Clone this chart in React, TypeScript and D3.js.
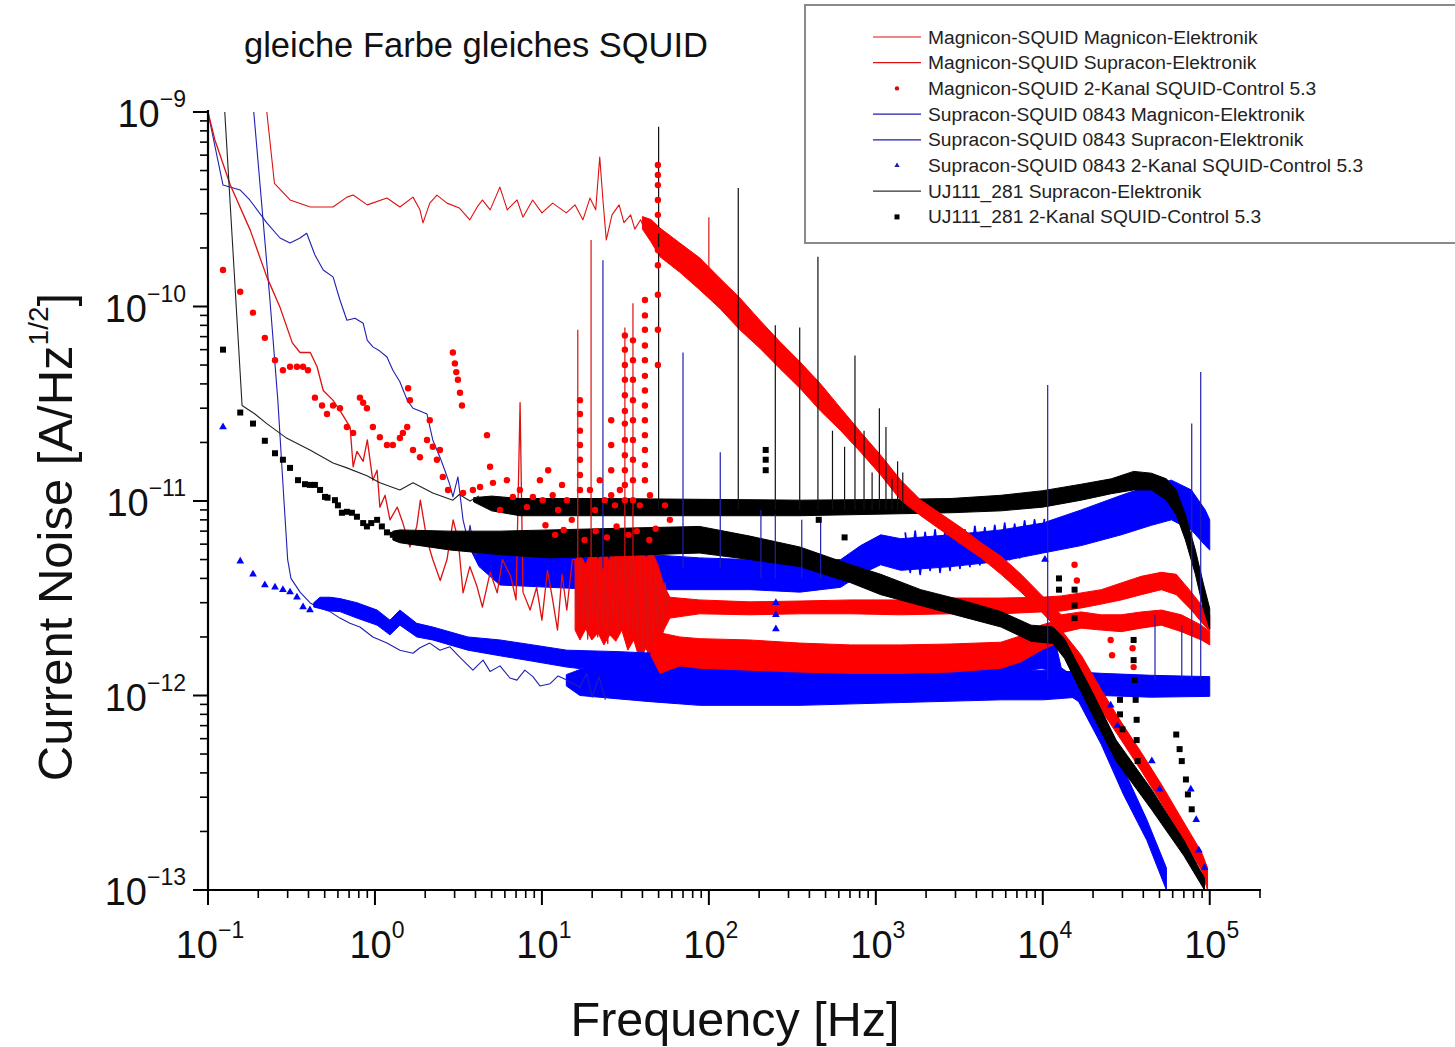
import React from "react";
import * as d3 from "d3";

// ---------- text ----------
const titleText = "gleiche Farbe gleiches SQUID";
const xTitle = "Frequency [Hz]";
const yTitleMain = "Current Noise [A/Hz";
const yTitleSup = "1/2";
const yTitleEnd = "]";
const xTickExponents = [-1, 0, 1, 2, 3, 4, 5];
const yTickExponents = [-13, -12, -11, -10, -9];
const legendLabels = [
  "Magnicon-SQUID Magnicon-Elektronik",
  "Magnicon-SQUID Supracon-Elektronik",
  "Magnicon-SQUID 2-Kanal SQUID-Control 5.3",
  "Supracon-SQUID 0843 Magnicon-Elektronik",
  "Supracon-SQUID 0843 Supracon-Elektronik",
  "Supracon-SQUID 0843 2-Kanal SQUID-Control 5.3",
  "UJ111_281 Supracon-Elektronik",
  "UJ111_281 2-Kanal SQUID-Control 5.3",
];

// ---------- data: [Hz, pA/sqrtHz] ; bands: [Hz, low, high] ; spikes: [Hz, base, top] ----------
// Magnicon-SQUID Magnicon-Elektronik (red line)
const magMagTrace = [
  [0.22, 1300], [0.225, 1000], [0.25, 430], [0.31, 353], [0.41, 325], [0.56, 325], [0.68, 365], [0.74, 374],
  [0.9, 333], [1.18, 361], [1.41, 325], [1.69, 365], [1.86, 314], [1.94, 269], [2.13, 340], [2.35, 374],
  [2.7, 340], [3.2, 321], [3.7, 279], [4.1, 325], [4.4, 353], [4.9, 314], [5.6, 411], [6.2, 314], [7.1, 353],
  [7.7, 288], [8.8, 353], [10, 303], [11.6, 340], [14, 303], [15.8, 333], [17.6, 279], [19.4, 361], [21, 314],
  [22.2, 586], [23.2, 353], [24.3, 220], [26.3, 296], [29, 333], [31, 270], [34, 296], [36, 250], [39, 279],
  [42, 240], [45, 247],
];
const magMagBand = [
  [40, 250, 290], [45, 215, 280], [51, 180, 253], [67, 150, 212], [88, 122, 178], [116, 98, 140],
  [153, 76, 111], [202, 61, 85], [266, 48, 66], [351, 38, 52], [467, 29, 40], [616, 23, 30],
  [812, 17.8, 22.6], [1070, 13.6, 17.2], [1410, 10.1, 12.8], [1860, 8.4, 10.1], [2450, 7.1, 8.6],
  [3240, 6.0, 7.3], [4270, 5.1, 6.1], [5620, 4.2, 5.2], [7410, 3.4, 4.2], [9770, 2.7, 3.3],
  [12900, 2.1, 2.6], [17000, 2.22, 2.69], [22400, 2.17, 2.6], [29500, 2.13, 2.6], [38900, 2.22, 2.69],
  [51300, 2.3, 2.75], [67600, 2.13, 2.6], [89100, 1.93, 2.3], [100000, 1.82, 2.12],
];
const magMagSpikes = [[100, 150, 288]];

// Magnicon-SQUID Supracon-Elektronik (red line)
const magSupTrace = [
  [0.1, 1000], [0.11, 718], [0.136, 421], [0.179, 247], [0.225, 142], [0.27, 99], [0.32, 65], [0.356, 58],
  [0.41, 58], [0.45, 49], [0.49, 37], [0.56, 33], [0.62, 29], [0.71, 24], [0.74, 15], [0.78, 18], [0.85, 16],
  [0.9, 20.6], [0.97, 12.8], [1.03, 14.4], [1.07, 9.3], [1.15, 10.7], [1.23, 8.0], [1.36, 9.3], [1.47, 7.7],
  [1.62, 5.8], [1.78, 7.4], [1.87, 10.1], [2.05, 6.3], [2.22, 5.0], [2.46, 3.9], [2.7, 5.0], [2.94, 8.0],
  [3.15, 6.3], [3.37, 3.37], [3.7, 4.6], [4.1, 3.6], [4.4, 2.85], [4.9, 4.3], [5.4, 3.37], [5.8, 5.0],
  [6.5, 4.1], [7.0, 3.1], [7.4, 32], [7.7, 3.4], [8.5, 2.75], [9.3, 3.6], [10, 2.44], [10.8, 4.4],
  [11.6, 3.1], [12.4, 2.17], [13.2, 4.2], [14.1, 2.75], [15.2, 5.0],
  [15.8, 5.0], [16.4, 2.1], [17.0, 5.6], [17.6, 2.3], [18.2, 4.6], [18.8, 1.95], [19.5, 6.0], [20.2, 2.5],
  [20.9, 5.2], [21.6, 2.0], [22.4, 5.8], [23.2, 2.2], [24.0, 4.8], [24.8, 1.85], [25.7, 5.4], [26.6, 2.4],
  [27.5, 6.1], [28.5, 2.0], [29.5, 5.0], [30.5, 2.3], [31.6, 6.3], [32.7, 1.9], [33.8, 5.5], [35.0, 2.1],
  [36.2, 4.9], [37.5, 1.7], [38.8, 5.8], [40.2, 1.55], [41.6, 5.2], [43.0, 1.6], [44.5, 5.6], [46.1, 1.7],
  [47.7, 4.8], [49.4, 1.9], [51.1, 4.2], [52.9, 2.2], [54.7, 3.8], [56.6, 2.6],
];
const magSupBand = [
  [15.8, 2.17, 5.0], [16.9, 1.93, 5.3], [18.3, 2.2, 4.7], [19.9, 1.93, 5.7], [21.7, 2.1, 5.0],
  [23.5, 1.82, 5.5], [25.5, 2.05, 4.9], [27.7, 1.9, 5.9], [30.1, 2.17, 5.1], [32.7, 1.71, 5.9],
  [35.5, 1.93, 5.3], [38.6, 1.52, 5.6], [41.9, 1.75, 5.1], [45.5, 1.55, 5.5], [49.5, 1.71, 4.7],
  [53.7, 2.17, 3.7], [58.4, 2.5, 3.2], [88, 2.63, 3.1], [176, 2.6, 3.03], [351, 2.63, 3.06],
  [707, 2.63, 3.1], [1410, 2.6, 3.1], [2820, 2.63, 3.17], [5620, 2.63, 3.17], [9770, 2.69, 3.2],
  [12900, 2.72, 3.25], [17000, 2.82, 3.37], [22400, 2.95, 3.5], [29500, 3.1, 3.79], [38900, 3.3, 4.1],
  [51300, 3.5, 4.3], [63000, 3.3, 4.2], [77600, 2.75, 3.4], [89100, 2.39, 2.92], [100000, 2.13, 2.6],
];
const magSupSpikes = [[16.4, 4, 76], [19.7, 4, 220], [31.4, 4, 78], [35.1, 4, 104]];

// Magnicon-SQUID 2-Kanal SQUID-Control 5.3 (red dots)
const magCtrlPoints = [
  [0.123, 154], [0.156, 119], [0.186, 93], [0.219, 69], [0.252, 53], [0.281, 47], [0.31, 49], [0.341, 49],
  [0.371, 49], [0.397, 47], [0.437, 34], [0.482, 31], [0.516, 28], [0.561, 31], [0.617, 30], [0.679, 24],
  [0.74, 22.4], [0.813, 34], [0.85, 32], [0.895, 30], [0.972, 24], [1.07, 21.3], [1.18, 19.4], [1.28, 19.4],
  [1.41, 21.1], [1.47, 22.4], [1.56, 24], [1.58, 38], [1.62, 33], [1.69, 18.3], [1.86, 16.8], [2.05, 20.6],
  [2.13, 26], [2.22, 19.0], [2.35, 16.3], [2.45, 18.3], [2.55, 13.3], [2.74, 11.4], [2.93, 58], [3.01, 51],
  [3.07, 46], [3.14, 42], [3.23, 36], [3.32, 31], [3.37, 11.0], [3.86, 11.4], [4.26, 11.8], [4.69, 21.8],
  [4.89, 15.0], [5.09, 12.4], [5.61, 9.0], [6.17, 12.8], [6.7, 10.5], [7.38, 11.4], [8.13, 9.3], [8.83, 10.5],
  [9.73, 12.8], [10.1, 10.1], [10.5, 7.5], [10.9, 14.4], [11.6, 10.7], [12, 6.7], [12.5, 9.0], [13.2, 12.1],
  [13.5, 7.1], [14.1, 10.1], [15.1, 8.0],
  [16.9, 33], [16.9, 28], [16.9, 23], [16.9, 19.4], [16.9, 16.3], [16.9, 13.6], [16.9, 11.4],
  [18, 6.3], [19.4, 11.4], [20.8, 9.0], [21, 7.0], [22.2, 12.8], [23.8, 10.1], [24.5, 6.5],
  [26, 26], [26, 19.4], [26, 14.4], [26, 10.7], [27.4, 9.5], [28, 7.4], [29.3, 11.4],
  [31.4, 71], [31.4, 60], [31.4, 50], [31.4, 42], [31.4, 35], [31.4, 29], [31.4, 25], [31.4, 20.6],
  [31.4, 17.2], [31.4, 14.4], [31.4, 12.1], [31.4, 10.1], [33, 6.7],
  [35.1, 67], [35.1, 53], [35.1, 42], [35.1, 33], [35.1, 26], [35.1, 20.6], [35.1, 16.3], [35.1, 12.8],
  [35.1, 10.1], [37, 7.0], [38.6, 9.5],
  [41.4, 108], [41.4, 90], [41.4, 76], [41.4, 63], [41.4, 53], [41.4, 44], [41.4, 37], [41.4, 31],
  [41.4, 26], [41.4, 21.8], [41.4, 18.3], [41.4, 15.3], [41.4, 12.8], [44, 6.3], [44.4, 10.7], [48, 7.2],
  [49.5, 534], [49.5, 475], [49.5, 421], [49.5, 353], [49.5, 296], [49.5, 247], [49.5, 195], [49.5, 163],
  [49.5, 115], [49.5, 76], [49.5, 50], [54.6, 9.5], [58.4, 8.0],
  [15500, 4.7], [16000, 3.9], [25500, 1.93], [26000, 1.61], [34500, 1.75], [35000, 1.4],
];
const magCtrlBand = [
  [45, 1.6, 1.85], [50.9, 1.3, 2.1], [67, 1.42, 2.0], [88, 1.38, 1.96], [176, 1.35, 1.93],
  [351, 1.32, 1.86], [707, 1.3, 1.82], [1410, 1.3, 1.82], [2820, 1.32, 1.84], [5620, 1.38, 1.88],
  [7410, 1.49, 2.03], [9770, 1.71, 2.3], [11600, 1.82, 2.4], [12900, 1.71, 2.17], [17000, 1.27, 1.61],
  [22400, 0.84, 1.07], [29500, 0.59, 0.73], [38900, 0.41, 0.51], [51300, 0.28, 0.35], [67600, 0.19, 0.234],
  [89100, 0.127, 0.157], [97000, 0.1, 0.13],
];

// Supracon-SQUID 0843 Magnicon-Elektronik (blue line)
const supMagTrace = [
  [0.188, 1000], [0.235, 108], [0.262, 33], [0.285, 10.1], [0.3, 5.0], [0.314, 4.0], [0.356, 3.4],
  [0.408, 3.0], [0.45, 2.85], [0.538, 2.7], [0.617, 2.5], [0.708, 2.35], [0.813, 2.25], [0.972, 2.0],
  [1.18, 1.86], [1.41, 1.71], [1.69, 1.65], [1.86, 1.76], [2.13, 1.86], [2.45, 1.71], [2.81, 1.78],
  [3.23, 1.57], [3.86, 1.35], [4.44, 1.52], [4.89, 1.33], [5.61, 1.42], [6.43, 1.23], [7.08, 1.2],
  [7.9, 1.35], [8.83, 1.25], [9.73, 1.12], [11.2, 1.15], [12.5, 1.26], [14.1, 1.2], [16.9, 1.1],
  [18.5, 1.3], [20, 0.98], [22, 1.25], [24, 0.95],
];
const supMagBand = [
  [14, 1.12, 1.28], [16.9, 1.0, 1.36], [44.4, 0.93, 1.39], [88, 0.89, 1.35], [351, 0.89, 1.32],
  [1410, 0.92, 1.35], [5620, 0.95, 1.35], [10000, 0.95, 1.35], [22400, 1.0, 1.3], [44700, 0.98, 1.27],
  [100000, 0.99, 1.25],
];
const supMagSpikes = [[10700, 1.2, 39.5], [47000, 1.2, 2.6], [68000, 1.2, 2.3], [78000, 1.2, 25], [88300, 1.2, 46]];

// Supracon-SQUID 0843 Supracon-Elektronik (blue line)
const supSupTrace = [
  [0.1, 1000], [0.103, 878], [0.123, 421], [0.156, 397], [0.178, 353], [0.225, 269], [0.27, 225],
  [0.31, 212], [0.356, 225], [0.39, 238], [0.437, 184], [0.49, 154], [0.561, 142], [0.617, 108],
  [0.679, 85], [0.759, 87], [0.85, 82], [0.9, 67], [0.972, 62], [1.07, 59], [1.18, 55], [1.28, 47],
  [1.41, 41], [1.56, 33], [1.69, 30], [1.86, 29], [2.05, 28], [2.22, 20.6], [2.45, 16.8], [2.62, 14.4],
  [2.81, 12.1], [2.93, 10.5], [3.14, 13.3], [3.37, 8.0], [3.6, 6.3], [3.71, 7.5], [4.0, 5.2], [4.3, 6.6],
];
const supSupOsc = [
  [1500, 6.9], [1607, 4.3], [1721, 7.0], [1843, 4.2], [1974, 6.9], [2114, 4.4], [2264, 7.1], [2425, 4.3],
  [2597, 7.0], [2781, 4.4], [2979, 7.2], [3190, 4.5], [3417, 7.1], [3659, 4.6], [3919, 7.4], [4197, 4.7],
  [4495, 7.3], [4814, 4.8], [5156, 7.5], [5522, 4.9], [5914, 7.7], [6334, 5.0], [6784, 7.6], [7265, 5.1],
  [7781, 7.9], [8333, 5.3], [8925, 8.0], [9559, 5.4], [10237, 8.1],
];
const supSupBand = [
  [3.6, 6.0, 6.6], [4.2, 4.6, 6.6], [5.6, 3.7, 5.6], [11.2, 3.6, 5.3], [22.2, 3.5, 5.3], [44.4, 3.5, 5.3],
  [88, 3.5, 5.1], [176, 3.5, 5.0], [351, 3.4, 4.9], [616, 3.6, 5.0], [812, 4.2, 5.9], [1070, 4.7, 6.7],
  [1410, 4.4, 6.4], [2820, 4.6, 6.7], [5620, 4.9, 7.1], [10000, 5.4, 7.7], [17000, 5.9, 9.0],
  [29500, 6.7, 10.7], [44700, 7.5, 12.1], [58900, 8.0, 12.8], [77600, 7.1, 11.4], [94000, 5.9, 9.0],
  [100000, 5.6, 8.0],
];
const supSupSpikes = [
  [23.2, 4.5, 173], [70, 4.5, 58], [117, 4.5, 17.8], [205, 4, 9], [250, 4, 8.5], [360, 4, 8], [467, 4, 8],
];

// Supracon-SQUID 0843 2-Kanal SQUID-Control 5.3 (blue triangles)
const supCtrlPoints = [
  [0.123, 24], [0.156, 4.9], [0.186, 4.2], [0.219, 3.7], [0.252, 3.6], [0.281, 3.5], [0.31, 3.4],
  [0.341, 3.2], [0.371, 2.85], [0.408, 2.75], [252, 3.0], [252, 2.6], [252, 2.2],
  [10300, 5.0], [25500, 0.89], [28000, 0.7], [45000, 0.46], [50000, 0.33], [77000, 0.33], [83000, 0.23],
  [86000, 0.16], [93000, 0.13],
];
const supCtrlBand = [
  [0.43, 2.85, 3.0], [0.469, 2.8, 3.2], [0.538, 2.72, 3.2], [0.617, 2.7, 3.15], [0.78, 2.5, 3.0],
  [1.03, 2.3, 2.75], [1.23, 2.05, 2.44], [1.41, 2.3, 2.75], [1.78, 2.0, 2.35], [2.22, 1.93, 2.25],
  [3.6, 1.71, 2.0], [5.61, 1.6, 1.93], [8.83, 1.5, 1.82], [14.1, 1.4, 1.71], [29.3, 1.3, 1.68],
  [88, 1.2, 1.61], [351, 1.18, 1.61], [1410, 1.18, 1.61], [4270, 1.23, 1.68], [7410, 1.32, 1.82],
  [9770, 1.38, 1.93], [12000, 1.32, 1.82], [12900, 1.07, 1.39], [16400, 0.93, 1.2], [22400, 0.56, 0.75],
  [30400, 0.31, 0.42], [42000, 0.18, 0.23], [55000, 0.1, 0.13],
];

// UJ111_281 Supracon-Elektronik (black line)
const ujSupTrace = [
  [0.126, 1000], [0.16, 31], [0.191, 28], [0.225, 25], [0.297, 21], [0.408, 18.3], [0.561, 15.7],
  [0.679, 14.8], [0.895, 13.5], [1.07, 12.4], [1.41, 11.4], [1.69, 12.4], [2.22, 11.0], [2.93, 10.1],
  [3.2, 10.8], [3.71, 10.0], [4.2, 10.6],
];
const ujSupBand = [
  [3.9, 9.9, 10.4], [5, 8.9, 10.6], [7.38, 8.4, 10.3], [22.2, 8.4, 10.3], [88, 8.4, 10.2],
  [351, 8.4, 10.1], [1410, 8.6, 10.2], [2820, 8.7, 10.3], [5620, 8.9, 10.7], [10000, 9.3, 11.3],
  [17000, 10.1, 12.2], [25700, 10.9, 13.0], [35000, 11.4, 14.2], [44700, 11.4, 13.9], [55000, 10.1, 13.0],
  [63000, 8.5, 11.4], [71500, 6.3, 8.5], [82000, 4.2, 5.6], [92000, 2.75, 3.7], [100000, 2.2, 2.8],
];
const ujSupSpikes = [
  [50, 9, 840], [150, 9, 407], [250, 9, 80], [350, 9, 78], [450, 9, 180], [550, 9, 23], [650, 9, 19],
  [750, 9, 56], [850, 9, 23], [950, 9, 14], [1050, 9, 30], [1150, 9, 24], [1250, 9, 13], [1350, 9, 16],
  [1450, 9, 14],
];

// UJ111_281 2-Kanal SQUID-Control 5.3 (black squares)
const ujCtrlPoints = [
  [0.123, 60], [0.156, 28.5], [0.186, 25], [0.219, 20.4], [0.252, 17.6], [0.281, 16.3], [0.31, 14.8],
  [0.346, 12.8], [0.381, 12.2], [0.408, 12.1], [0.437, 12.1], [0.469, 11.4], [0.502, 10.5], [0.52, 10.4],
  [0.576, 10.1], [0.6, 9.5], [0.634, 8.7], [0.679, 8.8], [0.728, 8.7], [0.78, 8.3], [0.85, 7.7],
  [0.895, 7.4], [0.95, 7.7], [1.03, 8.0], [1.1, 7.4], [1.18, 6.9], [1.28, 6.7],
  [219, 18.3], [219, 16.3], [219, 14.4], [455, 8.0], [650, 6.5],
  [12500, 4.0], [12500, 3.5], [15500, 3.5], [15500, 2.9], [15500, 2.5], [29000, 0.95], [29000, 0.8],
  [30000, 0.67], [35000, 1.93], [35000, 1.52], [35500, 1.2], [36000, 0.95], [36500, 0.75], [36500, 0.59],
  [37000, 0.46], [63000, 0.63], [66000, 0.53], [68000, 0.46], [72000, 0.37], [74000, 0.31], [78000, 0.26],
];
const ujCtrlBand = [
  [1.28, 6.3, 7.0], [1.41, 6.1, 7.1], [2.81, 5.6, 7.0], [5.61, 5.3, 7.0], [11.2, 5.1, 7.1],
  [22.2, 5.2, 7.2], [44.4, 5.3, 7.3], [88, 5.4, 7.4], [176, 5.0, 6.6], [351, 4.6, 5.8], [707, 3.8, 4.7],
  [1070, 3.3, 4.2], [1860, 2.9, 3.5], [3240, 2.55, 3.1], [5620, 2.25, 2.7], [8510, 1.9, 2.3],
  [11500, 1.85, 2.25], [13500, 1.55, 1.95], [19500, 0.82, 1.07], [27500, 0.46, 0.59], [44700, 0.26, 0.33],
  [70000, 0.15, 0.18], [93000, 0.1, 0.115],
];

// ---------- chart ----------
const W = 1455;
const H = 1047;
const LEFT = 208;
const RIGHT = 1260;
const TOP = 112;
const BOTTOM = 890;
const FONT = "'Liberation Sans', Arial, Helvetica, sans-serif";

const RED = "#ff0000";
const RED_LINE = "#dd1111";
const BLUE = "#0000ff";
const BLUE_LINE = "#1f1fb0";
const BLACK = "#000000";

export default function App() {
  const x = d3.scaleLog().domain([0.1, 2e5]).range([LEFT, RIGHT]);
  const y = d3.scaleLog().domain([1e-13, 1e-9]).range([BOTTOM, TOP]);
  const PA = 1e-12;
  const yp = (v: number) => y(v * PA);
  const line = d3.line<number[]>().x((d) => x(d[0])).y((d) => yp(d[1]));
  const area = d3
    .area<number[]>()
    .x((d) => x(d[0]))
    .y0((d) => yp(d[1]))
    .y1((d) => yp(d[2]));
  const tri = d3.symbol().type(d3.symbolTriangle).size(26)();
  const sq = d3.symbol().type(d3.symbolSquare).size(36)();

  const xMinor: number[] = [];
  for (let e = -1; e <= 5; e++) {
    for (let m = 2; m <= 9; m++) {
      const v = m * Math.pow(10, e);
      if (v <= 2e5) xMinor.push(v);
    }
  }
  const yMinor: number[] = [];
  for (let e = -13; e <= -10; e++) {
    for (let m = 2; m <= 9; m++) yMinor.push(m * Math.pow(10, e));
  }
  const sup = (e: number) => (e < 0 ? "\u2212" + String(-e) : String(e));

  const band = (data: number[][], color: string) => (
    <path d={area(data) || ""} fill={color} stroke={color} strokeWidth={1} strokeLinejoin="round" />
  );
  const trace = (data: number[][], color: string, w = 1.1) => (
    <path d={line(data) || ""} fill="none" stroke={color} strokeWidth={w} strokeLinejoin="round" />
  );
  const spikes = (data: number[][], color: string) =>
    data.map((d, i) => (
      <line key={i} x1={x(d[0])} x2={x(d[0])} y1={yp(d[1])} y2={yp(d[2])} stroke={color} strokeWidth={1.2} />
    ));

  const legendRows = [
    { kind: "line", color: RED_LINE },
    { kind: "line", color: RED_LINE },
    { kind: "dot", color: "#cc1111" },
    { kind: "line", color: BLUE_LINE },
    { kind: "line", color: BLUE_LINE },
    { kind: "tri", color: "#1a1aaa" },
    { kind: "line", color: "#333333" },
    { kind: "sq", color: BLACK },
  ];

  return (
    <svg
      width={W}
      height={H}
      viewBox={`0 0 ${W} ${H}`}
      style={{ position: "absolute", left: 0, top: 0, background: "#fff" }}
      fontFamily={FONT}
    >
      <rect x={0} y={0} width={W} height={H} fill="#fff" />
      <defs>
        <clipPath id="plotClip">
          <rect x={LEFT} y={TOP} width={RIGHT - LEFT} height={BOTTOM - TOP} />
        </clipPath>
      </defs>

      <g clipPath="url(#plotClip)">
        {/* blue lines */}
        {band(supMagBand, BLUE)}
        {trace(supMagTrace, BLUE_LINE)}
        {band(supSupBand, BLUE)}
        {trace(supSupTrace, BLUE_LINE)}
        {trace(supSupOsc, BLUE, 1.8)}
        {/* red line 2 */}
        {band(magSupBand, RED)}
        {trace(magSupTrace, RED_LINE, 1.3)}
        {/* black line */}
        {band(ujSupBand, BLACK)}
        {trace(ujSupTrace, "#222")}
        {/* red line 1 */}
        {band(magMagBand, RED)}
        {trace(magMagTrace, RED_LINE)}
        {/* scatter bands */}
        {band(supCtrlBand, BLUE)}
        {band(magCtrlBand, RED)}
        {band(ujCtrlBand, BLACK)}
        {/* spikes */}
        {spikes(supSupSpikes, BLUE_LINE)}
        {spikes(supMagSpikes, BLUE_LINE)}
        {spikes(magSupSpikes, RED_LINE)}
        {spikes(magMagSpikes, RED_LINE)}
        {spikes(ujSupSpikes, "#111")}
        {/* scatter points */}
        {supCtrlPoints.map((d, i) => (
          <path key={"t" + i} d={tri || ""} transform={`translate(${x(d[0])},${yp(d[1])})`} fill={BLUE} />
        ))}
        {magCtrlPoints.map((d, i) => (
          <circle key={"c" + i} cx={x(d[0])} cy={yp(d[1])} r={3.2} fill={RED} />
        ))}
        {ujCtrlPoints.map((d, i) => (
          <path key={"s" + i} d={sq || ""} transform={`translate(${x(d[0])},${yp(d[1])})`} fill={BLACK} />
        ))}
      </g>

      {/* axes */}
      <line x1={LEFT} x2={LEFT} y1={TOP - 2} y2={BOTTOM + 1} stroke="#000" strokeWidth={2.2} />
      <line x1={LEFT - 1} x2={RIGHT + 1} y1={BOTTOM} y2={BOTTOM} stroke="#000" strokeWidth={2.2} />
      {xTickExponents.map((e) => (
        <line key={"xm" + e} x1={x(Math.pow(10, e))} x2={x(Math.pow(10, e))} y1={BOTTOM} y2={BOTTOM + 15} stroke="#000" strokeWidth={2} />
      ))}
      {xMinor.map((v, i) => (
        <line key={"xn" + i} x1={x(v)} x2={x(v)} y1={BOTTOM} y2={BOTTOM + 8} stroke="#000" strokeWidth={1.6} />
      ))}
      {yTickExponents.map((e) => (
        <line key={"ym" + e} x1={LEFT - 15} x2={LEFT} y1={y(Math.pow(10, e))} y2={y(Math.pow(10, e))} stroke="#000" strokeWidth={2} />
      ))}
      {yMinor.map((v, i) => (
        <line key={"yn" + i} x1={LEFT - 8} x2={LEFT} y1={y(v)} y2={y(v)} stroke="#000" strokeWidth={1.6} />
      ))}

      {/* tick labels */}
      {xTickExponents.map((e) => (
        <text key={"xl" + e} x={x(Math.pow(10, e)) + 2} y={958} textAnchor="middle" fontSize={38} fill="#111">
          <tspan>10</tspan>
          <tspan dy={-20} fontSize={23}>{sup(e)}</tspan>
        </text>
      ))}
      {yTickExponents.map((e) => (
        <text key={"yl" + e} x={186} y={y(Math.pow(10, e)) + 15} textAnchor="end" fontSize={38} fill="#111">
          <tspan>10</tspan>
          <tspan dy={-20} fontSize={23}>{sup(e)}</tspan>
        </text>
      ))}

      {/* titles */}
      <text x={476} y={57} textAnchor="middle" fontSize={34.5} fill="#111">{titleText}</text>
      <text x={735} y={1036} textAnchor="middle" fontSize={48.5} fill="#111">{xTitle}</text>
      <text transform="translate(72,537) rotate(-90)" textAnchor="middle" fontSize={49} fill="#111">
        <tspan>{yTitleMain}</tspan>
        <tspan dy={-24} fontSize={28}>{yTitleSup}</tspan>
        <tspan dy={24}>{yTitleEnd}</tspan>
      </text>

      {/* legend */}
      <rect x={805} y={5} width={660} height={238} fill="#fff" stroke="#8a8a8a" strokeWidth={2} />
      {legendLabels.map((lab, i) => {
        const ry = 37 + i * 25.7;
        const r = legendRows[i];
        return (
          <g key={"lg" + i}>
            {r.kind === "line" && <line x1={873} x2={921} y1={ry} y2={ry} stroke={r.color} strokeWidth={1.2} />}
            {r.kind === "dot" && <circle cx={897} cy={ry} r={2.2} fill={r.color} />}
            {r.kind === "tri" && (
              <path d={d3.symbol().type(d3.symbolTriangle).size(12)() || ""} transform={`translate(897,${ry})`} fill={r.color} />
            )}
            {r.kind === "sq" && <rect x={894.5} y={ry - 2.5} width={5} height={5} fill={r.color} />}
            <text x={928} y={ry + 6.5} fontSize={19.2} fill="#222">{lab}</text>
          </g>
        );
      })}
    </svg>
  );
}
